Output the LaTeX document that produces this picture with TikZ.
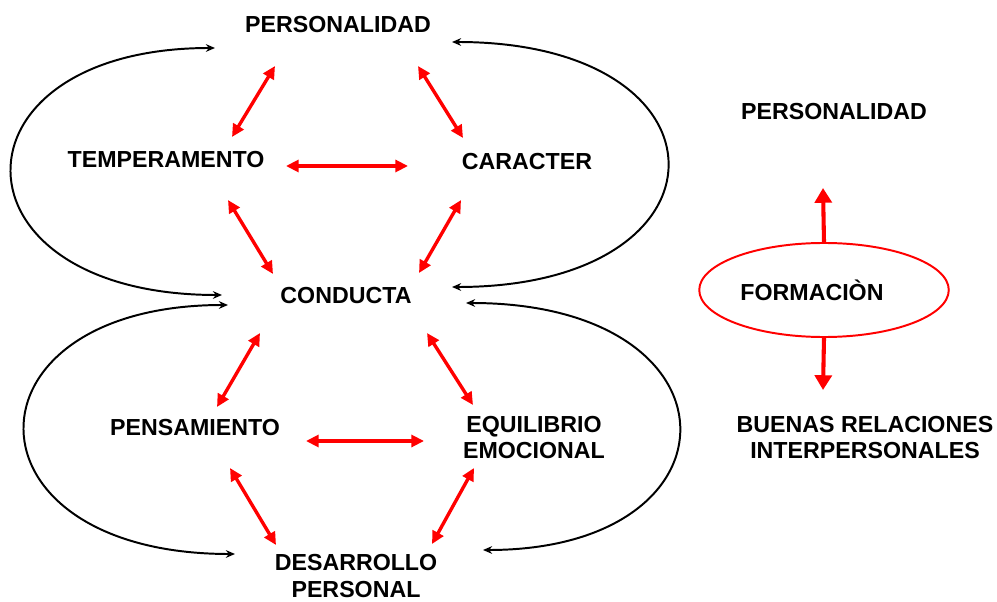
\documentclass[tikz,border=0pt]{standalone}
\usepackage{fontspec}
\setmainfont{Liberation Sans}
\usetikzlibrary{arrows.meta,shapes.geometric}

\begin{document}
\begin{tikzpicture}[x=0.025cm,y=-0.025cm,
  lbl/.style={font=\bfseries\fontsize{16.5}{18.5}\selectfont, align=center},
  rlink/.style={red, line width=2.4pt,
    {Triangle[length=9pt,width=8.5pt]}-{Triangle[length=9pt,width=8.5pt]}},
  backarc/.style={black, line width=1.4pt,
    {Stealth[length=6.5pt,width=5.5pt]}-{Stealth[length=6.5pt,width=5.5pt]}},
  formarrow/.style={red, line width=2.9pt, -{Triangle[length=10.5pt,width=12pt]}}]

\useasboundingbox (0,0) rectangle (997,602);

% Left part: personality scheme
 \node[lbl] (pers) at (338,25) {PERSONALIDAD};
 \node[lbl] (temp) at (166,160) {TEMPERAMENTO};
 \node[lbl] (car) at (527,162) {CARACTER};
 \node[lbl] (cond) at (346,296) {CONDUCTA};
 \node[lbl] (pens) at (195,428) {PENSAMIENTO};
 \node[lbl] (equi) at (534,438) {EQUILIBRIO\\EMOCIONAL};
 \node[lbl] (desa) at (356,576) {DESARROLLO\\PERSONAL};

% Red links
 \draw[rlink] ([shift={(-63,41)}]pers.center) -- ([shift={(66,-23)}]temp.center);
 \draw[rlink] ([shift={(80,41)}]pers.center) -- ([shift={(-64,-24)}]car.center);
 \draw[rlink] ([shift={(120,6)}]temp.center) -- ([shift={(-119,4)}]car.center);
 \draw[rlink] ([shift={(62,40)}]temp.center) -- ([shift={(-73,-22)}]cond.center);
 \draw[rlink] ([shift={(-66,38)}]car.center) -- ([shift={(73,-23)}]cond.center);
 \draw[rlink] ([shift={(-86,37)}]cond.center) -- ([shift={(22,-21)}]pens.center);
 \draw[rlink] ([shift={(81,37)}]cond.center) -- ([shift={(-61,-33)}]equi.center);
 \draw[rlink] ([shift={(111,13)}]pens.center) -- ([shift={(-110,3)}]equi.center);
 \draw[rlink] ([shift={(35,40)}]pens.center) -- ([shift={(-80,-31)}]desa.center);
 \draw[rlink] ([shift={(-60,30)}]equi.center) -- ([shift={(76,-32)}]desa.center);

% Black return arcs
 \draw[backarc] ([shift={(-123,23)}]pers.center) .. controls (-57,48) and (-57,295) .. ([shift={(-124,-1)}]cond.center);
 \draw[backarc] ([shift={(114,17)}]pers.center) .. controls (739,42) and (739,287) .. ([shift={(106,-9)}]cond.center);
 \draw[backarc] ([shift={(-118,9)}]cond.center) .. controls (-44,305) and (-44,554) .. ([shift={(-121,-22)}]desa.center);
 \draw[backarc] ([shift={(120,7)}]cond.center) .. controls (747,303) and (747,550) .. ([shift={(127,-26)}]desa.center);

% Right part: formation
 \node[lbl] (rpers) at (834,112) {PERSONALIDAD};
 \node[lbl, ellipse, draw=red, line width=1.4pt, minimum width=6.2cm, minimum height=2.35cm] (form) at (824,290) {FORMACIÒN\hspace*{0.6cm}};
 \node[lbl] (buen) at (865,438) {BUENAS RELACIONES\\INTERPERSONALES};
 \coordinate (uptip) at (823,188);
 \coordinate (dntip) at (823,390);
 \draw[formarrow] (form.north) -- (uptip);
 \draw[formarrow] (form.south) -- (dntip);

\end{tikzpicture}
\end{document}
